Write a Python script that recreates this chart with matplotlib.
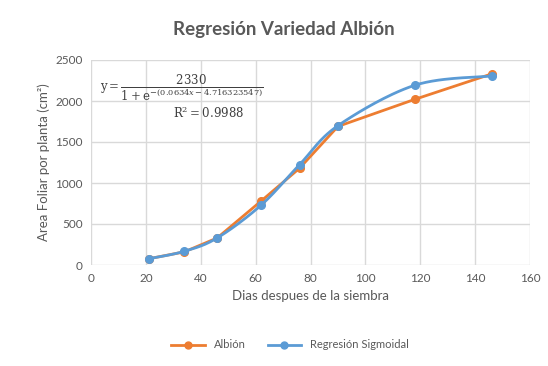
import numpy as np
import matplotlib.pyplot as plt

plt.rcParams['font.family'] = ['Lato', 'DejaVu Sans']

dias = [21, 34, 46, 62, 76, 90, 118, 146]
albion = [76, 160, 330, 780, 1180, 1690, 2020, 2330]
sigmoidal = [76, 167, 330, 730, 1224, 1699, 2192, 2305]

ORANGE = '#ED7D31'
BLUE = '#5B9BD5'
GRAY = '#595959'


def smooth(x, y, n=30):
    # Catmull-Rom curve, similar to Excel's smoothed line
    x = np.asarray(x, float)
    y = np.asarray(y, float)
    px = np.concatenate([[x[0]], x, [x[-1]]])
    py = np.concatenate([[y[0]], y, [y[-1]]])
    xs, ys = [], []
    t = np.linspace(0, 1, n)
    for i in range(1, len(px) - 2):
        for p, out in ((px, xs), (py, ys)):
            p0, p1, p2, p3 = p[i - 1], p[i], p[i + 1], p[i + 2]
            out.extend(0.5 * (2 * p1 + (-p0 + p2) * t
                              + (2 * p0 - 5 * p1 + 4 * p2 - p3) * t ** 2
                              + (-p0 + 3 * p1 - 3 * p2 + p3) * t ** 3))
    return xs, ys


fig = plt.figure(figsize=(5.48, 3.66), dpi=100)
ax = fig.add_axes([91 / 548, 1 - 265 / 366, 439 / 548, 205 / 366])

ax.plot(dias, albion, color=ORANGE, lw=2, marker='o', ms=5.5, zorder=3)
sx, sy = smooth(dias, sigmoidal)
ax.plot(sx, sy, color=BLUE, lw=2, zorder=4)
ax.plot(dias, sigmoidal, ls='none', color=BLUE, marker='o', ms=5.5, zorder=4)

ax.set_xlim(0, 160)
ax.set_ylim(0, 2500)
ax.set_xticks(range(0, 161, 20))
ax.set_yticks(range(0, 2501, 500))
ax.grid(True, color='#D9D9D9', lw=1)
ax.set_axisbelow(True)
for s in ax.spines.values():
    s.set_visible(False)
ax.tick_params(length=0, colors=GRAY, labelsize=8.5, pad=6)

ax.set_xlabel('Dias despues de la siembra', color=GRAY, fontsize=9.5)
ax.set_ylabel('Area Foliar por planta (cm²)', color=GRAY, fontsize=9.5)
fig.suptitle('Regresión Variedad Albión', x=284 / 548, y=1 - 30 / 366,
             va='center', fontsize=13.5, fontweight='bold', color=GRAY)

ax.text(33, 2150, r'$\mathrm{y} = \dfrac{2330}{1+\mathrm{e}^{-(0.0634x-4.716323547)}}$',
        fontsize=8.5, color='#404040', ha='center', va='center',
        math_fontfamily='dejavuserif')
ax.text(43, 1870, r'$\mathrm{R^2} = 0.9988$', fontsize=8.5, color='#404040',
        ha='center', va='center', math_fontfamily='dejavuserif')

h1, = ax.plot([], [], color=ORANGE, lw=2, marker='o', ms=5)
h2, = ax.plot([], [], color=BLUE, lw=2, marker='o', ms=5)
fig.legend([h1, h2], ['Albión', 'Regresión Sigmoidal'], loc='center',
           bbox_to_anchor=(290 / 548, 1 - 345 / 366), ncol=2, frameon=False,
           fontsize=8, labelcolor=GRAY, handlelength=3, columnspacing=2)

fig.savefig('out.png')
